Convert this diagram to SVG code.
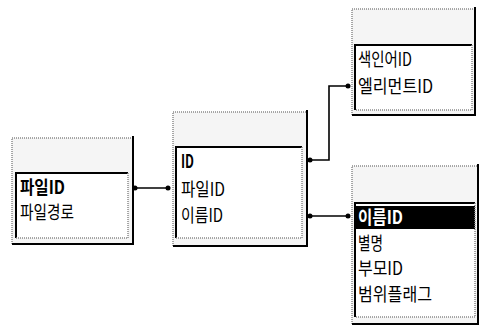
<svg xmlns="http://www.w3.org/2000/svg" width="484" height="329" viewBox="0 0 484 329">
<defs>
<style>
.hdr{fill:#f5f5f5;stroke:none}
.od{fill:none;stroke:#8a8a8a;stroke-width:1.5;stroke-dasharray:1 1}
.os{fill:none;stroke:#000;stroke-width:2}
.it{fill:#fff;stroke:none}
.ib{fill:none;stroke:#000;stroke-width:2}
.ig{fill:none;stroke:#8a8a8a;stroke-width:1.5;stroke-dasharray:1 1}
.t{font-family:"Noto Sans CJK KR","Noto Sans",sans-serif;font-size:18px;fill:#000}
.b{font-weight:bold}
.w{fill:#fff}
.c{fill:none;stroke:#000;stroke-width:1.6}
</style>
<marker id="dot" markerWidth="6" markerHeight="6" refX="3" refY="3" markerUnits="userSpaceOnUse">
<circle cx="3" cy="3" r="2.5" fill="#000"/>
</marker>
</defs>

<g id="table-file">
<rect class="hdr" x="12" y="138" width="121" height="106"/>
<rect class="it" x="16" y="173" width="112" height="65"/>
<path class="od" d="M12,244 V138 H133"/>
<path class="os" d="M133,136 V244 H12"/>
<path class="ib" d="M16,238 V173 H128"/>
<path class="ig" d="M128,173 V238 H16"/>
<text class="t b" x="20" y="194" textLength="45" lengthAdjust="spacingAndGlyphs">파일ID</text>
<text class="t" x="20" y="219" textLength="54" lengthAdjust="spacingAndGlyphs">파일경로</text>
</g>

<g id="table-main">
<rect class="hdr" x="173" y="112" width="134" height="134"/>
<rect class="it" x="176" y="147" width="126" height="91"/>
<path class="od" d="M173,246 V112 H307"/>
<path class="os" d="M307,110 V246 H173"/>
<path class="ib" d="M176,238 V147 H302"/>
<path class="ig" d="M302,147 V238 H176"/>
<text class="t b" x="181" y="168" textLength="13" lengthAdjust="spacingAndGlyphs">ID</text>
<text class="t" x="181" y="196" textLength="44" lengthAdjust="spacingAndGlyphs">파일ID</text>
<text class="t" x="181" y="222" textLength="42" lengthAdjust="spacingAndGlyphs">이름ID</text>
</g>

<g id="table-index">
<rect class="hdr" x="352" y="9" width="123" height="106"/>
<rect class="it" x="355" y="45" width="117" height="65"/>
<path class="od" d="M352,115 V9 H475"/>
<path class="os" d="M475,7 V115 H352"/>
<path class="ib" d="M355,110 V45 H472"/>
<path class="ig" d="M472,45 V110 H355"/>
<text class="t" x="358" y="66" textLength="54" lengthAdjust="spacingAndGlyphs">색인어ID</text>
<text class="t" x="358" y="93" textLength="75" lengthAdjust="spacingAndGlyphs">엘리먼트ID</text>
</g>

<g id="table-name">
<rect class="hdr" x="352" y="166" width="126" height="158"/>
<rect class="it" x="355" y="203" width="120" height="114"/>
<path class="od" d="M352,324 V166 H478"/>
<path class="os" d="M478,164 V324 H352"/>
<rect x="355" y="206" width="120" height="23" fill="#000"/>
<path class="ib" d="M355,317 V203 H475"/>
<path class="ig" d="M475,203 V317 H355"/>
<text class="t b w" x="358" y="224" textLength="45" lengthAdjust="spacingAndGlyphs">이름ID</text>
<text class="t" x="358" y="250" textLength="25" lengthAdjust="spacingAndGlyphs">별명</text>
<text class="t" x="358" y="275" textLength="45" lengthAdjust="spacingAndGlyphs">부모ID</text>
<text class="t" x="358" y="301" textLength="74" lengthAdjust="spacingAndGlyphs">범위플래그</text>
</g>

<g id="connectors">
<path class="c" d="M135,188 H168" marker-start="url(#dot)" marker-end="url(#dot)"/>
<path class="c" d="M310,160 H329 V86 H348" marker-start="url(#dot)" marker-end="url(#dot)"/>
<path class="c" d="M310,216 H348" marker-start="url(#dot)" marker-end="url(#dot)"/>
</g>
</svg>
